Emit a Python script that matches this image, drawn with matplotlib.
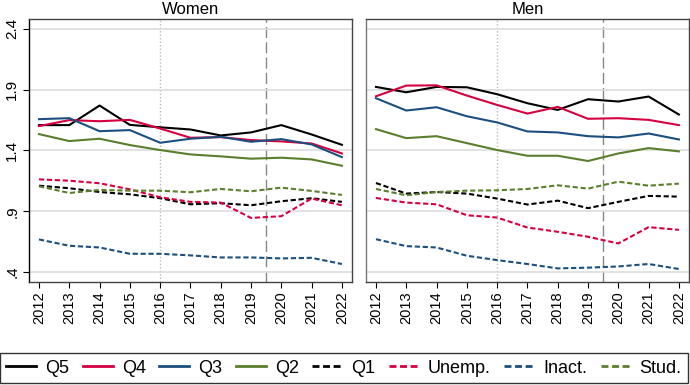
import numpy as np
import matplotlib
matplotlib.use("Agg")
import matplotlib.pyplot as plt

plt.rcParams['font.family'] = ['Liberation Sans', 'DejaVu Sans']

years = list(range(2012, 2023))

# women
w_q5 = [1.608, 1.608, 1.769, 1.610, 1.590, 1.572, 1.523, 1.548, 1.608, 1.531, 1.446]
w_q4 = [1.600, 1.649, 1.640, 1.651, 1.580, 1.504, 1.509, 1.485, 1.474, 1.457, 1.375]
w_q3 = [1.657, 1.665, 1.558, 1.567, 1.463, 1.496, 1.512, 1.471, 1.493, 1.449, 1.345]
w_q2 = [1.534, 1.477, 1.496, 1.444, 1.403, 1.367, 1.351, 1.332, 1.340, 1.326, 1.274]
w_q1 = [1.110, 1.089, 1.058, 1.039, 1.007, 0.957, 0.966, 0.949, 0.982, 1.007, 0.977]
w_unemp = [1.162, 1.151, 1.130, 1.080, 1.015, 0.977, 0.971, 0.845, 0.859, 1.004, 0.949]
w_inact = [0.668, 0.616, 0.602, 0.550, 0.550, 0.537, 0.520, 0.520, 0.512, 0.517, 0.466]
w_stud = [1.105, 1.050, 1.075, 1.069, 1.069, 1.056, 1.083, 1.064, 1.094, 1.067, 1.034]

# men
m_q5 = [1.922, 1.878, 1.922, 1.919, 1.862, 1.788, 1.733, 1.821, 1.802, 1.843, 1.695]
m_q4 = [1.845, 1.933, 1.935, 1.851, 1.774, 1.703, 1.758, 1.660, 1.665, 1.651, 1.608]
m_q3 = [1.829, 1.728, 1.755, 1.681, 1.630, 1.556, 1.548, 1.517, 1.507, 1.539, 1.490]
m_q2 = [1.575, 1.501, 1.517, 1.460, 1.403, 1.356, 1.356, 1.313, 1.375, 1.419, 1.392]
m_q1 = [1.132, 1.045, 1.058, 1.045, 1.004, 0.955, 0.987, 0.925, 0.977, 1.026, 1.020]
m_unemp = [1.009, 0.971, 0.957, 0.867, 0.848, 0.766, 0.731, 0.690, 0.635, 0.769, 0.747]
m_inact = [0.670, 0.613, 0.602, 0.534, 0.498, 0.466, 0.430, 0.436, 0.446, 0.466, 0.425]
m_stud = [1.083, 1.031, 1.058, 1.069, 1.072, 1.083, 1.113, 1.086, 1.143, 1.110, 1.127]

labels = ["Q5", "Q4", "Q3", "Q2", "Q1", "Unemp.", "Inact.", "Stud."]
colors = ["#000000", "#d5003f", "#1b4f7f", "#5a7f2c",
          "#000000", "#d5003f", "#1b4f7f", "#5a7f2c"]
dash = (0, (2.5, 1.3))
styles = ["-", "-", "-", "-", dash, dash, dash, dash]

women = [w_q5, w_q4, w_q3, w_q2, w_q1, w_unemp, w_inact, w_stud]
men = [m_q5, m_q4, m_q3, m_q2, m_q1, m_unemp, m_inact, m_stud]
yticks = [0.4, 0.9, 1.4, 1.9, 2.4]
ytlabels = [".4", ".9", "1.4", "1.9", "2.4"]

fig = plt.figure(figsize=(6.9, 3.85), dpi=100)
ax1 = fig.add_axes([0.042, 0.2675, 0.468, 0.683])
ax2 = fig.add_axes([0.5304, 0.2675, 0.468, 0.683])

for ax, data, title in [(ax1, women, "Women"), (ax2, men, "Men")]:
    for vals, c, ls, lab in zip(data, colors, styles, labels):
        ax.plot(years, vals, color=c, linestyle=ls, linewidth=1.5, label=lab)
    ax.axvline(2016, color="#bbbbbb", linestyle=(0, (1, 1.5)), linewidth=1, zorder=0)
    ax.axvline(2019.5, color="#888888", linestyle=(0, (8, 3)), linewidth=1, zorder=0)
    ax.set_xlim(2011.67, 2022.33)
    ax.set_ylim(0.318, 2.48)
    ax.set_yticks(yticks)
    ax.yaxis.grid(True, color="#dddddd", linewidth=1.2)
    ax.set_axisbelow(True)
    ax.set_xticks(years)
    ax.set_xticklabels([str(y) for y in years], rotation=90, fontsize=10.5)
    ax.tick_params(axis="x", length=4, width=0.8, pad=3)
    ax.set_title(title, fontsize=12, pad=4)
    for s in ax.spines.values():
        s.set_color("#444444")
        s.set_linewidth(1)

ax1.set_yticklabels(ytlabels, rotation=90, va="center", fontsize=11)
ax1.tick_params(axis="y", length=4, width=0.8, pad=3)
ax1.spines["left"].set_color("#000000")
ax2.set_yticklabels([])
ax2.tick_params(axis="y", length=0)
ax2.spines["left"].set_color("#777777")

handles, lbls = ax1.get_legend_handles_labels()
leg = fig.legend(handles, lbls, ncol=8, loc="lower left", mode="expand",
                 bbox_to_anchor=(0.0, 0.0052, 0.997, 0.0857), fontsize=13,
                 frameon=True, fancybox=False, handlelength=1.65,
                 handletextpad=0.5, columnspacing=0.8, borderpad=0.35,
                 borderaxespad=0)
leg.get_frame().set_edgecolor("#000000")
leg.get_frame().set_linewidth(1)
for h in leg.get_lines():
    h.set_linewidth(2)

fig.savefig("out.png", dpi=100)
